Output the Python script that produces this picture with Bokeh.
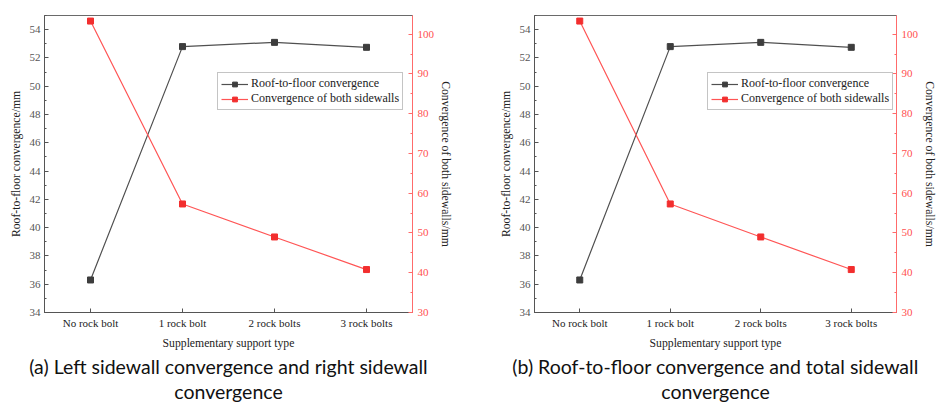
from bokeh.plotting import figure
from bokeh.models import (FactorRange, Range1d, LinearAxis, SingleIntervalTicker,
                          Legend, LegendItem, Title)
from bokeh.layouts import row
from bokeh.embed import file_html
from bokeh.resources import INLINE

categories = ["No rock bolt", "1 rock bolt", "2 rock bolts", "3 rock bolts"]
roof_to_floor = [36.3, 52.8, 53.1, 52.75]
both_sidewalls = [103.3, 57.3, 49.0, 40.8]
captions = [
    ["(a) Left sidewall convergence and right sidewall", "convergence"],
    ["(b) Roof-to-floor convergence and total sidewall", "convergence"],
]

SERIF = "Liberation Serif"
RED_AX = "#ff6b6b"
RED = "#f22e2e"
RED_LINE = "#ff5555"
DARK = "#3d3d3d"
DARK_LINE = "#505050"


def style_axis(ax, line_color, label_color):
    ax.axis_line_color = line_color
    ax.major_tick_in = 4
    ax.major_tick_out = 0
    ax.minor_tick_in = 2
    ax.minor_tick_out = 0
    ax.major_tick_line_color = line_color
    ax.minor_tick_line_color = line_color
    ax.major_label_text_font = SERIF
    ax.major_label_text_font_size = "11px"
    ax.major_label_text_color = label_color
    ax.axis_label_text_font = SERIF
    ax.axis_label_text_font_size = "11.7px"
    ax.axis_label_text_font_style = "normal"
    ax.axis_label_text_color = "#222222"


def make_panel(caption, width, bl, br):
    p = figure(x_range=FactorRange(*categories, range_padding=0),
               y_range=Range1d(34, 55), width=width, height=402,
               output_backend="svg", toolbar_location=None,
               min_border_left=bl, min_border_right=br,
               min_border_top=15, min_border_bottom=0)
    p.extra_y_ranges = {"right": Range1d(30, 104.7)}
    p.grid.visible = False
    p.outline_line_color = "#6a6a6a"
    p.outline_line_width = 1
    p.background_fill_color = "white"
    p.border_fill_color = "white"

    l1 = p.line(categories, roof_to_floor, line_color=DARK_LINE, line_width=1.2)
    s1 = p.scatter(categories, roof_to_floor, marker="square", size=6,
                   fill_color=DARK, line_color=DARK)
    l2 = p.line(categories, both_sidewalls, line_color=RED_LINE, line_width=1.2,
                y_range_name="right")
    s2 = p.scatter(categories, both_sidewalls, marker="square", size=6,
                   fill_color=RED, line_color=RED, y_range_name="right")

    xa = p.xaxis[0]
    style_axis(xa, "#555555", "#222222")
    xa.axis_label = "Supplementary support type"
    xa.major_label_standoff = 4
    xa.axis_label_standoff = 5

    ya = p.yaxis[0]
    style_axis(ya, "#555555", "#555555")
    ya.ticker = SingleIntervalTicker(interval=2, num_minor_ticks=2)
    ya.axis_label = "Roof-to-floor convergence/mm"
    ya.major_label_standoff = 4
    ya.axis_label_standoff = 4

    ra = LinearAxis(y_range_name="right",
                    ticker=SingleIntervalTicker(interval=10, num_minor_ticks=2))
    style_axis(ra, RED_AX, "#ff5050")
    ra.axis_label = "Convergence of both sidewalls/mm"
    ra.major_label_standoff = 5
    ra.axis_label_standoff = 2
    p.add_layout(ra, "right")

    legend = Legend(items=[
        LegendItem(label="Roof-to-floor convergence", renderers=[l1, s1]),
        LegendItem(label="Convergence of both sidewalls", renderers=[l2, s2]),
    ], location=(173, 202))
    legend.border_line_color = "#8a8a8a"
    legend.border_line_width = 1
    legend.background_fill_alpha = 1
    legend.label_text_font = SERIF
    legend.label_text_font_size = "12px"
    legend.label_text_color = "#222222"
    legend.glyph_width = 27
    legend.glyph_height = 12
    legend.label_height = 12
    legend.label_standoff = 3
    legend.spacing = 0
    legend.padding = 3
    legend.margin = 0
    p.add_layout(legend, "center")

    for text in caption:
        p.add_layout(Title(text=text, align="center", text_font="Lato",
                           text_font_size="19.5px", text_font_style="normal",
                           text_color="#111111", standoff=0), "below")
    return p


p1 = make_panel(captions[0], 470, 44, 58)
p2 = make_panel(captions[1], 469, 64, 37)
layout = row(p1, p2)

open("out.html", "w").write(file_html(layout, INLINE))
